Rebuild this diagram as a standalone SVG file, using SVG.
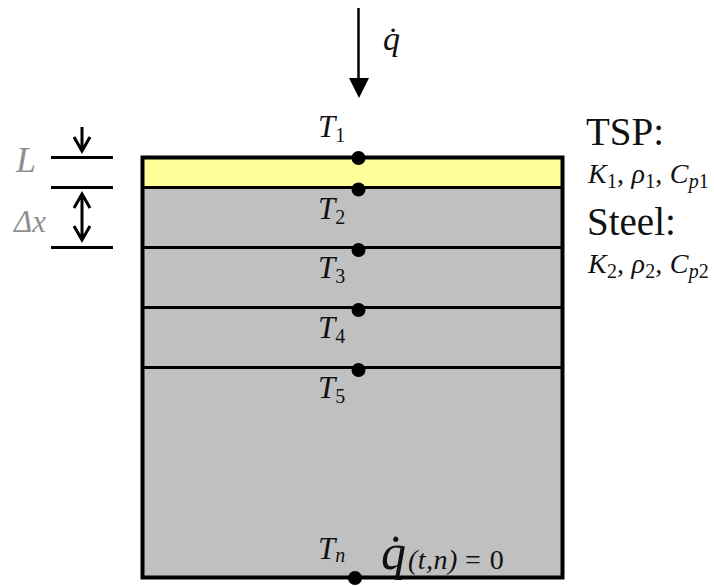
<svg xmlns="http://www.w3.org/2000/svg" width="714" height="586" viewBox="0 0 714 586">
<style>
text{font-family:"Liberation Serif","Times New Roman",serif;fill:#111}
.i{font-style:italic}
.t{font-size:31px;font-style:italic}
.s{font-size:20px}
.h{font-size:39px}
.m{font-size:28px}
.g{fill:#8f8f8f}
.l{stroke:#000;stroke-width:3;fill:none}
.d{fill:#000}
</style>
<rect width="714" height="586" fill="#fff"/>
<g id="layers">
<rect x="143" y="187" width="419" height="390" fill="#c0c0c0"/>
<rect x="143" y="158" width="419" height="29" fill="#ffff99"/>
</g>
<g id="connectors">
<path class="l" d="M143 187.500H562M143 247.500H562M143 307.500H562M143 367.500H562"/>
<rect x="142.500" y="157.500" width="420" height="420" fill="none" stroke="#000" stroke-width="4"/>
<path d="M358.500 8V80" stroke="#000" stroke-width="2.500"/>
<path class="d" d="M349 78H369L359 98Z"/>
<path class="l" d="M51 157.500H113M51 187.500H113M51 247.500H113"/>
<path class="l" d="M82 127V151M74 137L82 151L90 137"/>
<path class="l" d="M82 194V240M74 208L82 194L90 208M74 226L82 240L90 226"/>
</g>
<g id="nodes">
<circle id="n1" class="d" cx="358.500" cy="158" r="7"/>
<circle id="n2" class="d" cx="358.500" cy="189.500" r="7"/>
<circle id="n3" class="d" cx="358.500" cy="250" r="7"/>
<circle id="n4" class="d" cx="358.500" cy="310" r="7"/>
<circle id="n5" class="d" cx="358.500" cy="370" r="7"/>
<circle id="nn" class="d" cx="355" cy="578" r="7"/>
</g>
<g id="labels">
<text class="i" x="383" y="50" font-size="34">q̇</text>
<text x="318" y="137"><tspan class="t">T</tspan><tspan class="s" dy="5">1</tspan></text>
<text x="318" y="219"><tspan class="t">T</tspan><tspan class="s" dy="5">2</tspan></text>
<text x="318" y="278"><tspan class="t">T</tspan><tspan class="s" dy="5">3</tspan></text>
<text x="318" y="338"><tspan class="t">T</tspan><tspan class="s" dy="5">4</tspan></text>
<text x="318" y="398"><tspan class="t">T</tspan><tspan class="s" dy="5">5</tspan></text>
<text x="318" y="559"><tspan class="t">T</tspan><tspan class="s i" dy="3">n</tspan></text>
<text class="i" x="381" y="569" font-size="50">q̇</text>
<text x="408" y="569" font-size="28"><tspan class="i" letter-spacing="0.500">(t,n)</tspan><tspan x="465" letter-spacing="1">= 0</tspan></text>
<text class="g i" x="16" y="172" font-size="36">L</text>
<text class="g i" x="14" y="232" font-size="31">Δx</text>
<text class="h" x="586" y="145">TSP:</text>
<text class="h" x="587" y="235">Steel:</text>
<text x="588" y="183" letter-spacing="0.200"><tspan class="m i">K</tspan><tspan class="s" dy="5">1</tspan><tspan class="m" dy="-5">, </tspan><tspan class="m i">ρ</tspan><tspan class="s" dy="5">1</tspan><tspan class="m" dy="-5">, </tspan><tspan class="m i">C</tspan><tspan class="s i" dy="5">p</tspan><tspan class="s">1</tspan></text>
<text x="588" y="273" letter-spacing="0.200"><tspan class="m i">K</tspan><tspan class="s" dy="5">2</tspan><tspan class="m" dy="-5">, </tspan><tspan class="m i">ρ</tspan><tspan class="s" dy="5">2</tspan><tspan class="m" dy="-5">, </tspan><tspan class="m i">C</tspan><tspan class="s i" dy="5">p</tspan><tspan class="s">2</tspan></text>
</g>
</svg>
